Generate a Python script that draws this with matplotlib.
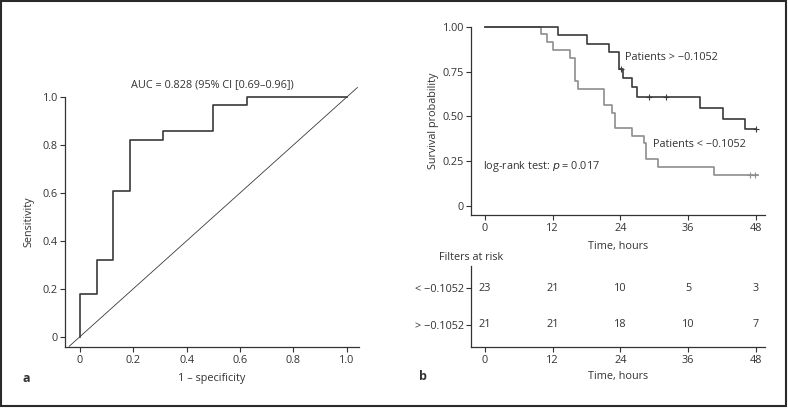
import matplotlib
matplotlib.use("Agg")
import matplotlib.pyplot as plt
import matplotlib.patches as patches

plt.rcParams['font.family'] = ['Open Sans', 'DejaVu Sans']
plt.rcParams['font.size'] = 7.8
plt.rcParams['text.color'] = '#333333'
plt.rcParams['axes.edgecolor'] = '#333333'
plt.rcParams['xtick.color'] = '#333333'
plt.rcParams['ytick.color'] = '#333333'
plt.rcParams['axes.labelcolor'] = '#333333'
plt.rcParams['axes.unicode_minus'] = True

# ROC curve (panel a)
roc_fpr = [0, 0, 0.0625, 0.0625, 0.125, 0.125, 0.1875, 0.1875, 0.3125, 0.3125, 0.5, 0.5, 0.625, 0.625, 1.0]
roc_tpr = [0, 0.18, 0.18, 0.32, 0.32, 0.61, 0.61, 0.82, 0.82, 0.86, 0.86, 0.965, 0.965, 1.0, 1.0]
auc_text = "AUC = 0.828 (95% CI [0.69–0.96])"

# Kaplan-Meier curves (panel b): step change times and survival after each step
hi_times = [0, 13, 18, 22, 23.7, 24.4, 26, 27, 38, 42.1, 46.1, 48]
hi_surv = [1.0, 0.953, 0.905, 0.857, 0.762, 0.712, 0.665, 0.61, 0.545, 0.485, 0.428, 0.428]
hi_censor_t = [24.1, 29.1, 32.0, 48.0]
hi_censor_s = [0.762, 0.61, 0.61, 0.428]

lo_times = [0, 10, 11, 12, 15, 16, 16.5, 21.1, 22.5, 23.1, 26, 28.1, 28.5, 30.6, 40.5, 48.4]
lo_surv = [1.0, 0.957, 0.913, 0.870, 0.826, 0.696, 0.652, 0.563, 0.517, 0.437, 0.39, 0.35, 0.26, 0.219, 0.173, 0.173]
lo_censor_t = [47.0, 47.9]
lo_censor_s = [0.173, 0.173]

time_ticks = [0, 12, 24, 36, 48]
surv_ticks = [0, 0.25, 0.5, 0.75, 1.0]
surv_ticklabels = ["0", "0.25", "0.50", "0.75", "1.00"]

# number at risk table
risk_groups = ["> \u22120.1052", "< \u22120.1052"]
risk_lo = [23, 21, 10, 5, 3]
risk_hi = [21, 21, 18, 10, 7]

dark = '#3a3a3a'
gray = '#8e8e8e'

fig = plt.figure(figsize=(7.88, 4.08), dpi=100)

# border round the figure
fig.patches.append(patches.Rectangle((0.001, 0.004), 0.996, 0.994, transform=fig.transFigure,
                                     fill=False, edgecolor='#2a2a2a', linewidth=1.5))

def style_axes(ax):
    ax.spines['top'].set_visible(False)
    ax.spines['right'].set_visible(False)
    ax.spines['left'].set_linewidth(0.9)
    ax.spines['bottom'].set_linewidth(0.9)
    ax.tick_params(axis='x', length=3.5, width=0.8, pad=2.5)
    ax.tick_params(axis='y', length=3.5, width=0.8, pad=1.5)

# ---- panel a ----
ax1 = fig.add_axes([0.0825, 0.1502, 0.3731, 0.6365])
style_axes(ax1)
ax1.plot(roc_fpr, roc_tpr, color=dark, linewidth=1.2, clip_on=False)
ax1.plot([-0.04, 1.04], [-0.04, 1.04], color=dark, linewidth=0.6, clip_on=False)
ax1.set_xlim(-0.056, 1.046)
ax1.set_ylim(-0.042, 1.042)
ax1.spines['left'].set_bounds(-0.042, 1.0)
ax1.set_xticks([0, 0.2, 0.4, 0.6, 0.8, 1.0])
ax1.set_xticklabels(["0", "0.2", "0.4", "0.6", "0.8", "1.0"])
ax1.set_yticks([0, 0.2, 0.4, 0.6, 0.8, 1.0])
ax1.set_yticklabels(["0", "0.2", "0.4", "0.6", "0.8", "1.0"])
ax1.text(0.495, 1.05, auc_text, ha='center', va='center')
fig.text(212 / 788, 1 - 378 / 408, "1 \u2013 specificity", ha='center', va='center')
fig.text(29 / 788, 1 - 222 / 408, "Sensitivity", ha='center', va='center', rotation=90)
fig.text(26 / 788, 1 - 378 / 408, "a", ha='center', va='center', fontweight='bold', fontsize=9)

# ---- panel b, survival ----
ax2 = fig.add_axes([0.5977, 0.473, 0.3731, 0.4615])
style_axes(ax2)
ax2.step(lo_times, lo_surv, where='post', color=gray, linewidth=1.2, clip_on=False)
ax2.step(hi_times, hi_surv, where='post', color=dark, linewidth=1.2, clip_on=False)
ax2.plot(lo_censor_t, lo_censor_s, '+', color=gray, markersize=4, markeredgewidth=0.8, clip_on=False)
ax2.plot(hi_censor_t, hi_censor_s, '+', color=dark, markersize=4, markeredgewidth=0.8, clip_on=False)
ax2.set_xlim(-2.48, 49.6)
ax2.set_ylim(-0.05, 1.0)
ax2.set_xticks(time_ticks)
ax2.set_yticks(surv_ticks)
ax2.set_yticklabels(surv_ticklabels)
ax2.set_ylabel("Survival probability", labelpad=3)
ax2.text(24.8, 0.827, "Patients > \u22120.1052", ha='left', va='center')
ax2.text(29.7, 0.344, "Patients < \u22120.1052", ha='left', va='center')
ax2.text(-0.3, 0.219, "log-rank test: $\\it{p}$ = 0.017", ha='left', va='center')
fig.text(618 / 788, 1 - 246 / 408, "Time, hours", ha='center', va='center')

# ---- panel b, risk table ----
ax3 = fig.add_axes([0.5977, 0.1495, 0.3731, 0.1985])
style_axes(ax3)
ax3.set_xlim(-2.48, 49.6)
ax3.set_ylim(0.4, 2.6)
ax3.set_xticks(time_ticks)
ax3.set_yticks([1, 2])
ax3.set_yticklabels(risk_groups)
for t, n in zip(time_ticks, risk_lo):
    ax3.text(t, 2, str(n), ha='center', va='center')
for t, n in zip(time_ticks, risk_hi):
    ax3.text(t, 1, str(n), ha='center', va='center')
fig.text(471 / 788, 1 - 257 / 408, "Filters at risk", ha='center', va='center')
fig.text(618 / 788, 1 - 377 / 408, "Time, hours", ha='center', va='center')
fig.text(423 / 788, 1 - 377 / 408, "b", ha='center', va='center', fontweight='bold', fontsize=9)

fig.savefig("out.png", dpi=100)
